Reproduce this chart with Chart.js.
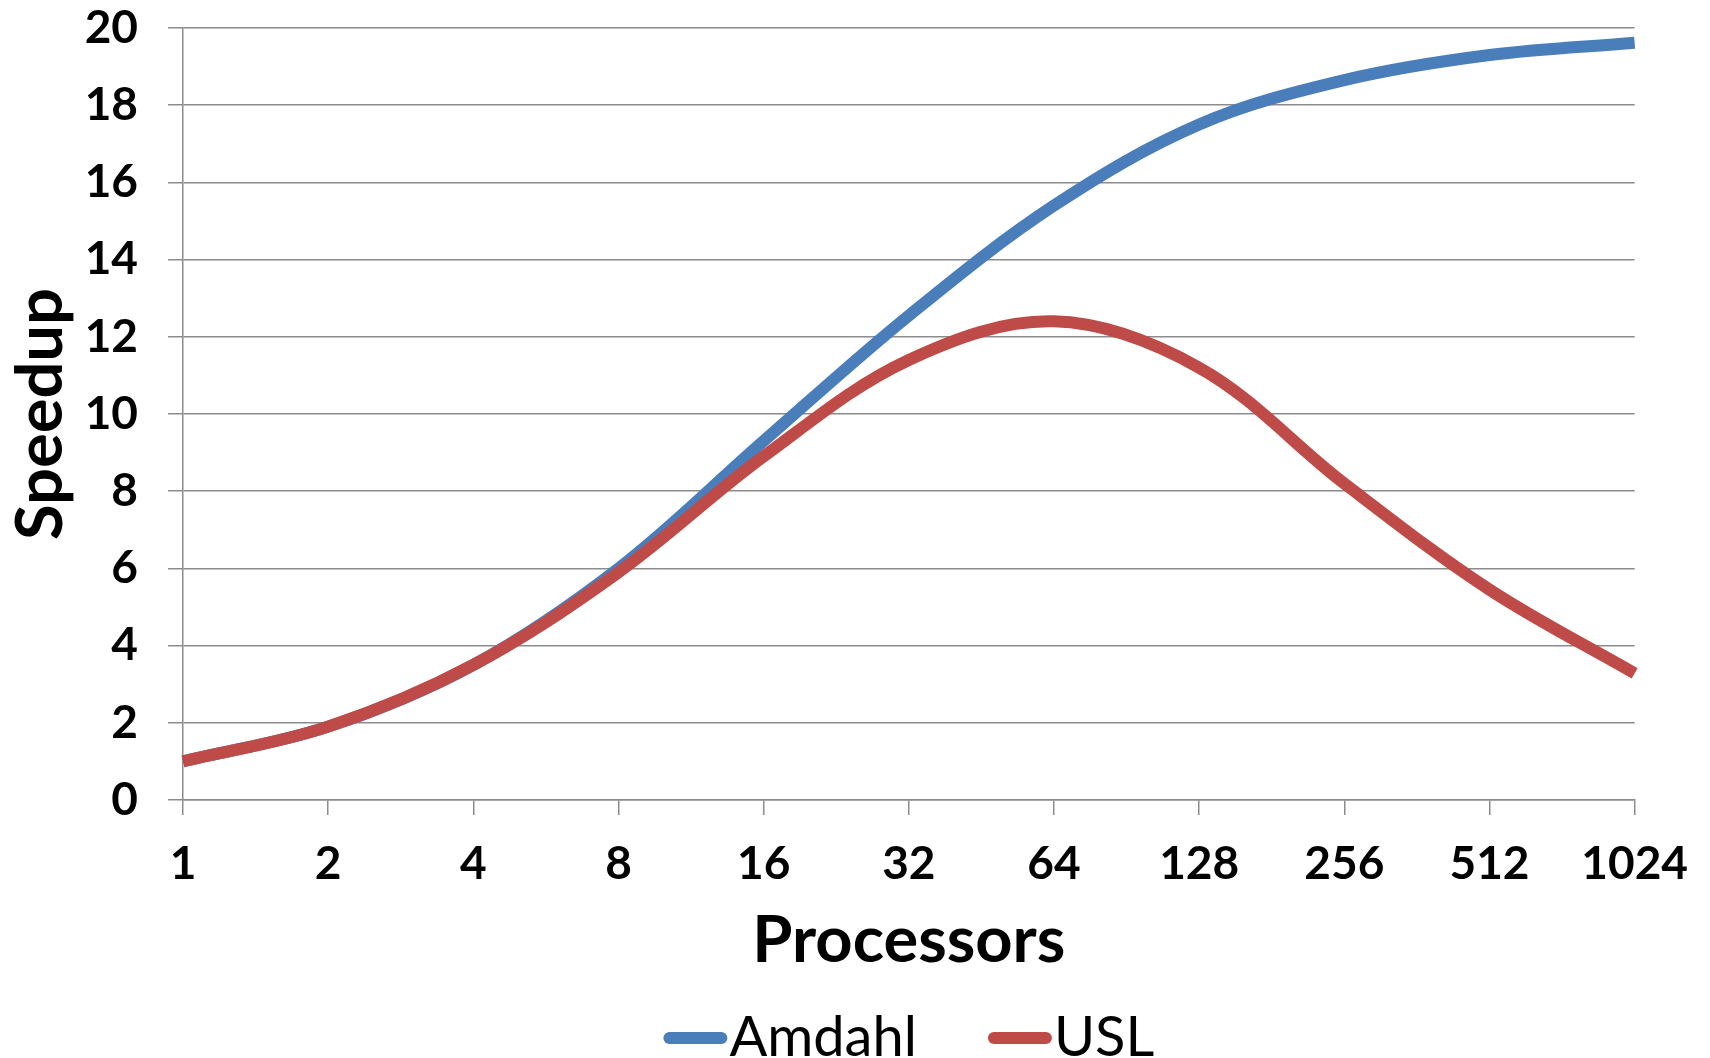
<!DOCTYPE html>
<html>
<head>
<meta charset="utf-8">
<script src="https://cdn.jsdelivr.net/npm/chart.js@4.4.1/dist/chart.umd.min.js"></script>
<style>
html,body{margin:0;padding:0;background:#fff;}
#wrap{width:1710px;height:1058px;}
</style>
</head>
<body>
<div id="wrap"><canvas id="graph"></canvas></div>
<script>
// processor counts (log2 axis)
const processors=['1','2','4','8','16','32','64','128','256','512','1024'];
const amdahl=[1,1.9,3.5,6.0,9.3,12.55,15.4,17.5,18.65,19.3,19.62];
const usl=[1,1.9,3.5,5.9,8.9,11.4,12.4,11.2,8.2,5.45,3.28];
const yTicks=[0,2,4,6,8,10,12,14,16,18,20];

const gridGray="#8c8c8c";
const font="Lato";

let chart;

// legend drawn under the axis title, line swatch tight against the text
const bottomLegend={
id:'bottomLegend',
afterDraw(c){
const ctx=c.ctx;
ctx.save();
ctx.font="56px "+font;
ctx.textBaseline="alphabetic";
const items=c.data.datasets.map(d=>({label:d.label,color:d.borderColor,w:ctx.measureText(d.label).width}));
const lineLen=52,cap=6,gapText=2,gapItem=71;
let total=items.reduce((s,it)=>s+lineLen+2*cap+gapText+it.w,0)+gapItem*(items.length-1);
let x=(c.chartArea.left+c.chartArea.right)/2-total/2;
items.forEach(it=>{
ctx.strokeStyle=it.color;
ctx.lineWidth=12;
ctx.lineCap='round';
ctx.beginPath();
ctx.moveTo(x+cap,1038);
ctx.lineTo(x+cap+lineLen,1038);
ctx.stroke();
x+=lineLen+2*cap+gapText;
ctx.fillStyle="#000";
ctx.fillText(it.label,x,1056);
x+=it.w+gapItem;
});
ctx.restore();
}
};

function initChart(){

const ctx=document.getElementById("graph");

chart=new Chart(ctx,{
type:'line',
data:{
labels:processors,
datasets:[
{
label:"Amdahl",
data:amdahl,
borderColor:"#4a7ebb",
backgroundColor:"#4a7ebb",
borderWidth:12,
pointRadius:0,
tension:0.35,
order:1
},
{
label:"USL",
data:usl,
borderColor:"#be4b48",
backgroundColor:"#be4b48",
borderWidth:12,
pointRadius:0,
tension:0.35,
order:0
}
]
},
options:{
responsive:true,
maintainAspectRatio:false,
animation:false,
layout:{padding:{top:28,right:74,left:0,bottom:0}},
plugins:{
tooltip:{enabled:false},
legend:{display:false}
},
scales:{
x:{
offset:false,
afterFit(axis){axis.height=258;},
grid:{drawOnChartArea:false,drawTicks:true,tickLength:15,color:gridGray,lineWidth:1.5},
border:{color:gridGray,width:1.5},
ticks:{color:"#000",font:{family:font,size:46,weight:'bold'},padding:22,maxRotation:0,autoSkip:false},
title:{display:true,text:"Processors",color:"#000",font:{family:font,size:65,weight:'bold',lineHeight:1},padding:{top:0,bottom:84}}
},
y:{
min:0,
max:20,
afterFit(axis){axis.width=183;axis.paddingTop=0;axis.paddingBottom=0;},
afterBuildTicks(axis){axis.ticks=yTicks.map(v=>({value:v}));},
grid:{color:gridGray,lineWidth:1.5,tickLength:15},
border:{color:gridGray,width:1.5},
ticks:{color:"#000",font:{family:font,size:46,weight:'bold'},padding:30},
title:{display:true,text:"Speedup",color:"#000",font:{family:font,size:65,weight:'bold',lineHeight:1},padding:{top:9,bottom:0}}
}
}
},
plugins:[bottomLegend]
});

}

initChart();
</script>
</body>
</html>
